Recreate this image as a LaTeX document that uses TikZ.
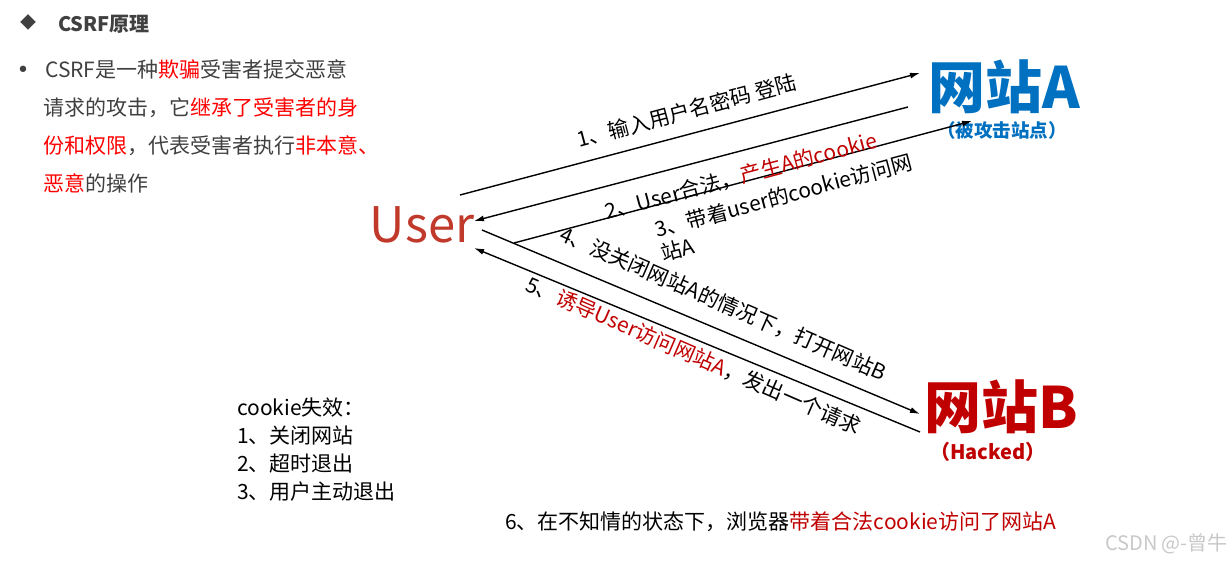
\documentclass[tikz,border=0pt]{standalone}
\usepackage{fontspec}
\setmainfont{Noto Sans CJK SC}
\newfontfamily\symfont{DejaVu Sans}
\usetikzlibrary{arrows.meta}
\definecolor{txtgray}{RGB}{64,64,64}
\definecolor{brightred}{RGB}{255,0,0}
\definecolor{dred}{RGB}{192,0,0}
\definecolor{userred}{RGB}{192,57,43}
\definecolor{siteblue}{RGB}{0,112,192}
\definecolor{wmgray}{RGB}{200,200,200}
\newcommand{\fsz}[1]{\fontsize{#1}{#1}\selectfont}
\begin{document}
\begin{tikzpicture}[x=1pt,y=-1pt,
  conn/.style={line width=1.4pt, draw=black},
  tipend/.style={-{Latex[length=10pt,width=6pt]}},
  para/.style={inner sep=0pt, anchor=base west, text=txtgray, font=\fsz{21}},
  lbl/.style={inner sep=0pt, anchor=base west, text=black, font=\fontsize{21}{23}\selectfont},
  note/.style={inner sep=0pt, anchor=base west, text=black, font=\fsz{21}}]
\useasboundingbox (0,0) rectangle (1232,562);

% heading and paragraph
\node[inner sep=0pt, text=txtgray, font=\fsz{16}] (diam) at (28,22) {◆};
\node[inner sep=0pt, anchor=base west, text=txtgray, font=\fsz{20}\bfseries] (title) at (58,31) {CSRF原理};
\node[inner sep=0pt, text=txtgray, font=\symfont\fsz{22}] (bul) at (23,72) {•};
\node[para] (p1) at (45,77) {CSRF是一种\textcolor{brightred}{欺骗}受害者提交恶意};
\node[para] (p2) at (43,115) {请求的攻击，它\textcolor{brightred}{继承了受害者的身}};
\node[para] (p3) at (43,153) {\textcolor{brightred}{份和权限}，代表受害者执行\textcolor{brightred}{非本意、}};
\node[para] (p4) at (43,191) {\textcolor{brightred}{恶意}的操作};

% main actors
\node[inner sep=0pt, text=userred, font=\fsz{49}] (user) at (422,225) {User};
\node[inner sep=0pt, text=siteblue, font=\fsz{57}\bfseries] (siteA) at (1004,87) {网站A};
\node[inner sep=0pt, text=siteblue, font=\fsz{18.5}\bfseries] (siteAsub) at (1002,130) {（被攻击站点）};
\node[inner sep=0pt, text=dred, font=\fsz{57}\bfseries] (siteB) at (1001,407) {网站B};
\node[inner sep=0pt, text=dred, font=\fsz{20}\bfseries] (siteBsub) at (988,452) {（Hacked）};

% connector end points
\coordinate (c1s) at (460,195);
\coordinate (c1e) at (920,73);
\coordinate (c2s) at (908,107);
\coordinate (c2e) at (474,221);
\coordinate (c3s) at (514,243);
\coordinate (c3e) at (972,121);
\coordinate (c4s) at (482,230);
\coordinate (c4e) at (920,414);
\coordinate (c5s) at (920,432);
\coordinate (c5e) at (474,248);

\draw[conn, tipend] (c1s) -- (c1e);
\draw[conn, tipend] (c2s) -- (c2e);
\draw[conn, tipend] (c3s) -- (c3e);
\draw[conn, tipend] (c4s) -- (c4e);
\draw[conn, tipend] (c5s) -- (c5e);

% step labels
\node[lbl, rotate=15] (l1) at (579,148) {1、输入用户名密码 登陆};
\node[lbl, rotate=15] (l2) at (607,220) {2、User合法，\textcolor{dred}{产生A的cookie}};
\node[lbl, rotate=15] (l3) at (657,238) {\begin{tabular}[t]{@{}l@{}}3、带着user的cookie访问网\\站A\end{tabular}};
\node[lbl, rotate=-23.5] (l4) at (558,240) {4、没关闭网站A的情况下，打开网站B};
\node[lbl, rotate=-23.5] (l5) at (524,290) {5、\textcolor{dred}{诱导User访问网站A}，发出一个请求};

% cookie notes
\node[note] (n1) at (237,415) {cookie失效：};
\node[note] (n2) at (237,443) {1、关闭网站};
\node[note] (n3) at (237,471) {2、超时退出};
\node[note] (n4) at (237,499) {3、用户主动退出};

\node[note] (n6) at (505,529) {6、在不知情的状态下，浏览器\textcolor{dred}{带着合法cookie访问了网站A}};

\node[inner sep=0pt, anchor=base east, text=wmgray, font=\fsz{20}] (wm) at (1228,550) {CSDN @-曾牛};
\end{tikzpicture}
\end{document}
